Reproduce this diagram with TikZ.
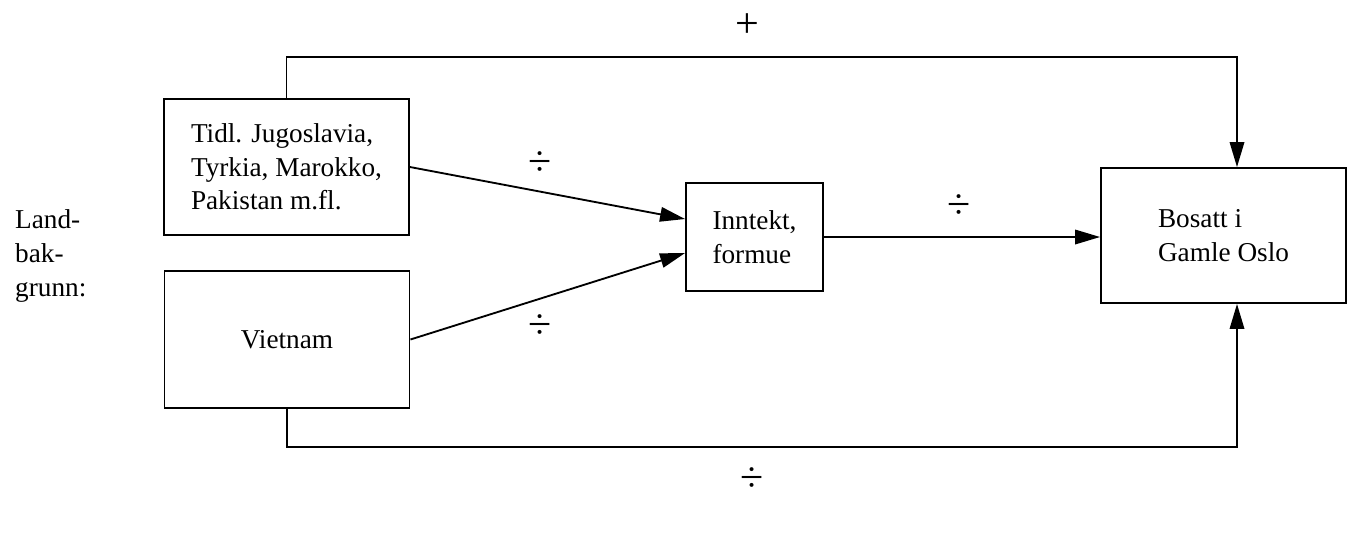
\documentclass[tikz,border=0pt]{standalone}
\usepackage{fontspec}
\setmainfont{Liberation Serif}
\usetikzlibrary{arrows.meta}

\begin{document}
\begin{tikzpicture}[
  b/.style={draw,line width=1.05pt,align=left,font=\fontsize{15.5}{19}\selectfont},
  a/.style={-{Triangle[length=0.5cm,width=0.29cm]},line width=1.05pt},
  s/.style={font=\fontsize{24}{24}\selectfont}
]
  \useasboundingbox (0,0) rectangle (27.1,-10.84);
  \node[b,minimum width=4.9cm,minimum height=2.72cm] (tid) at (5.73,-3.34) {Tidl. Jugoslavia,\\Tyrkia, Marokko,\\Pakistan m.fl.};
  \node[b,minimum width=4.9cm,minimum height=2.74cm] (vie) at (5.74,-6.79) {Vietnam};
  \node[b,minimum width=2.74cm,minimum height=2.16cm] (inn) at (15.09,-4.74) {Inntekt,\\formue};
  \node[b,minimum width=4.9cm,minimum height=2.7cm] (bos) at (24.47,-4.71) {Bosatt i\\Gamle Oslo};
  \node[anchor=west,align=left,font=\fontsize{15.5}{19.5}\selectfont] (lb) at (0.18,-5.12) {Land-\\bak-\\grunn:};
  \coordinate (tr) at (24.74,-1.14);
  \coordinate (br) at (24.74,-8.94);
  \draw[a] (tid.east) -- ([yshift=0.36cm]inn.west);
  \draw[a] (vie.east) -- ([yshift=-0.32cm]inn.west);
  \draw[a] (inn.east) -- (inn.east -| bos.west);
  \draw[a] (tid.north) |- (tr) -- (tr |- bos.north);
  \draw[a] (vie.south) |- (br) -- (br |- bos.south);
  \node[s] (pl) at (14.94,-0.52) {+};
  \node[s] (d1) at (10.8,-3.28) {÷};
  \node[s] (d2) at (10.8,-6.54) {÷};
  \node[s] (d3) at (19.18,-4.14) {÷};
  \node[s] (d4) at (15.04,-9.6) {÷};
\end{tikzpicture}
\end{document}
